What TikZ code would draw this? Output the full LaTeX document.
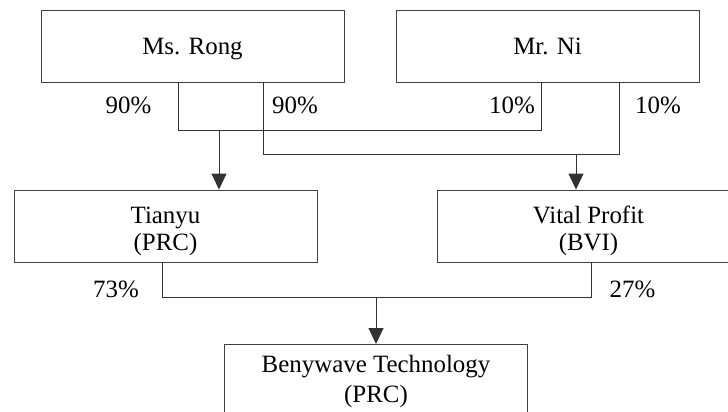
\documentclass[tikz,border=0pt]{standalone}
\usepackage{fontspec}
\setmainfont{Liberation Serif}
\usetikzlibrary{arrows.meta}
\begin{document}
\begin{tikzpicture}[x=1bp,y=-1bp,
  box/.style={draw=black!75,line width=0.9bp,rectangle,minimum width=303bp,minimum height=72bp,inner sep=0pt,align=center,font=\fontsize{25}{27}\selectfont},
  onebox/.style={box,text height=26.6bp,text depth=10bp},
  twobox/.style={box,text height=54bp,text depth=6bp},
  pct/.style={anchor=base,inner sep=0pt,font=\fontsize{25}{27}\selectfont},
  wire/.style={draw=black!80,line width=0.9bp},
  arr/.style={wire,-{Triangle[length=16bp,width=15bp]}}]
\clip (0,0) rectangle (728,411);
\fill[white] (0,0) rectangle (728,411);
% boxes
\node[onebox] (rong) at (192.5,46) {Ms. Rong};
\node[onebox] (ni) at (547.5,46) {Mr. Ni};
\node[twobox] (tianyu) at (165.5,226) {Tianyu\\(PRC)};
\node[twobox] (vital) at (588.5,226) {Vital Profit\\(BVI)};
\node[box,anchor=north,minimum height=0pt,inner ysep=0pt,text height=57.7bp,text depth=25bp,font=\fontsize{25}{30}\selectfont] (beny) at (376,344) {Benywave Technology\\(PRC)};
% junctions
\coordinate (a1) at (178,130);
\coordinate (a2) at (541,130);
\coordinate (b1) at (263,154);
\coordinate (b2) at (619,154);
\coordinate (c1) at (219,130);
\coordinate (c2) at (576,154);
\coordinate (d1) at (162,297);
\coordinate (d2) at (591,297);
\coordinate (c3) at (376,297);
% wires
\draw[wire] (rong.south -| a1) -- (a1) -- (a2) -- (ni.south -| a2);
\draw[wire] (rong.south -| b1) -- (b1) -- (b2) -- (ni.south -| b2);
\draw[arr] (c1) -- (tianyu.north -| c1);
\draw[arr] (c2) -- (vital.north -| c2);
\draw[wire] (tianyu.south -| d1) -- (d1) -- (d2) -- (vital.south -| d2);
\draw[arr] (c3) -- (beny.north);
% percentages
\node[pct] (p1) at (128.5,113) {90\%};
\node[pct] (p2) at (295,113) {90\%};
\node[pct] (p3) at (512,113) {10\%};
\node[pct] (p4) at (658,113) {10\%};
\node[pct] (p5) at (116,297) {73\%};
\node[pct] (p6) at (632.5,297) {27\%};
\end{tikzpicture}
\end{document}
